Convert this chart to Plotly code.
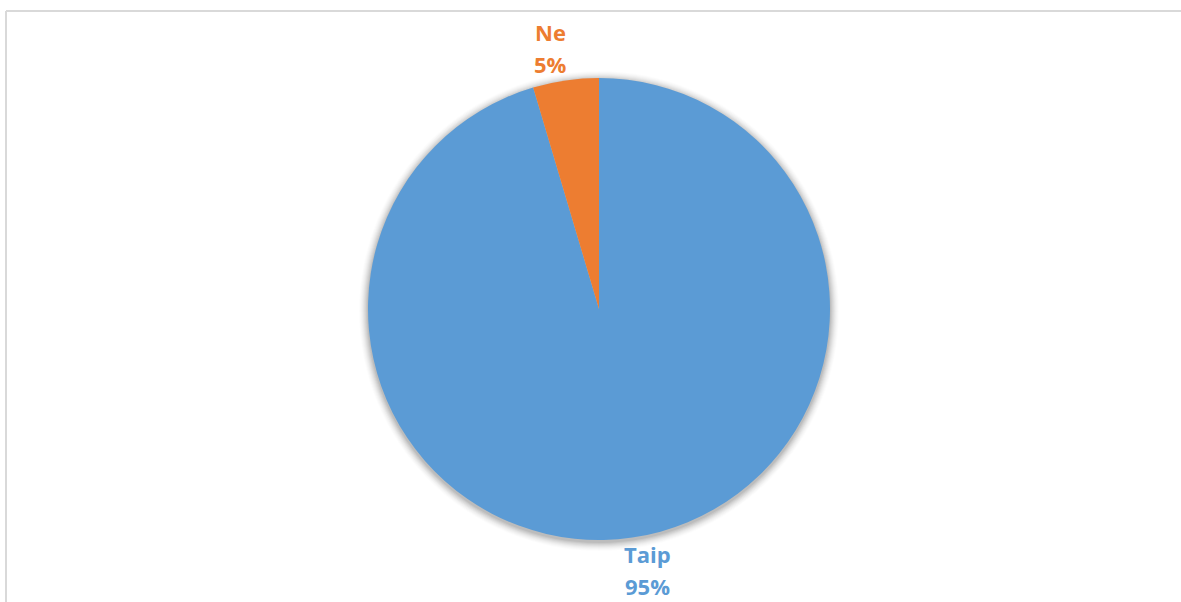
import math
import plotly.graph_objects as go

labels = ["Taip", "Ne"]
values = [95.4, 4.6]
colors = ["#5B9BD5", "#ED7D31"]

W, H = 1181, 602
cx, cy, r = 599, 309, 231

fig = go.Figure(go.Pie(
    labels=labels,
    values=values,
    sort=False,
    direction="clockwise",
    rotation=0,
    marker=dict(colors=colors, line=dict(width=0)),
    textinfo="none",
    showlegend=False,
    hoverinfo="label+percent",
    domain=dict(x=[(cx - r) / W, (cx + r) / W], y=[1 - (cy + r) / H, 1 - (cy - r) / H]),
))

# data labels placed outside, at each slice's mid-angle (computed from the values)
total = sum(values)
Rx, Ry, pitch = 335, 248, 32
annotations = []
cum = 0
for lab, val, col in zip(labels, values, colors):
    theta = 2 * math.pi * (cum + val / 2) / total
    cum += val
    x = cx + Rx * math.sin(theta)
    yref_px = cy - Ry * math.cos(theta)
    pct = f"{round(100 * val / total)}%"
    if math.cos(theta) >= 0:
        y_lab, y_pct = yref_px - pitch, yref_px
    else:
        y_lab, y_pct = yref_px, yref_px + pitch
    for txt, yy in [(lab, y_lab), (pct, y_pct)]:
        annotations.append(dict(
            xref="paper", yref="paper", x=x / W, y=1 - yy / H,
            xanchor="center", yanchor="middle", showarrow=False,
            text=f"<b>{txt}</b>",
            font=dict(color=col, size=22, family="Open Sans"),
        ))

shadow = []
for k, op in [(9, 0.012), (8, 0.015), (7, 0.02), (6, 0.025), (5, 0.03), (4, 0.035),
              (3, 0.04), (2, 0.05), (1, 0.06)]:
    shadow.append(dict(type="circle", xref="paper", yref="paper", layer="below",
                       x0=(cx - r - k) / W, x1=(cx + r + k) / W,
                       y0=1 - (cy + 2 + r + k) / H, y1=1 - (cy + 2 - r - k) / H,
                       fillcolor=f"rgba(0,0,0,{op})", line=dict(width=0)))

fig.update_layout(
    width=W, height=H,
    margin=dict(l=0, r=0, t=0, b=0),
    paper_bgcolor="white",
    plot_bgcolor="white",
    annotations=annotations,
    shapes=shadow + [
        dict(type="line", xref="paper", yref="paper", x0=6 / W, x1=1.01, y0=1 - 11 / H, y1=1 - 11 / H,
             line=dict(color="#D9D9D9", width=2)),
        dict(type="line", xref="paper", yref="paper", x0=6 / W, x1=6 / W, y0=-0.01, y1=1 - 11 / H,
             line=dict(color="#D9D9D9", width=2)),
    ],
)

fig.write_html("out.html", config={"displayModeBar": False},
               post_script="document.body.style.margin='0';")
